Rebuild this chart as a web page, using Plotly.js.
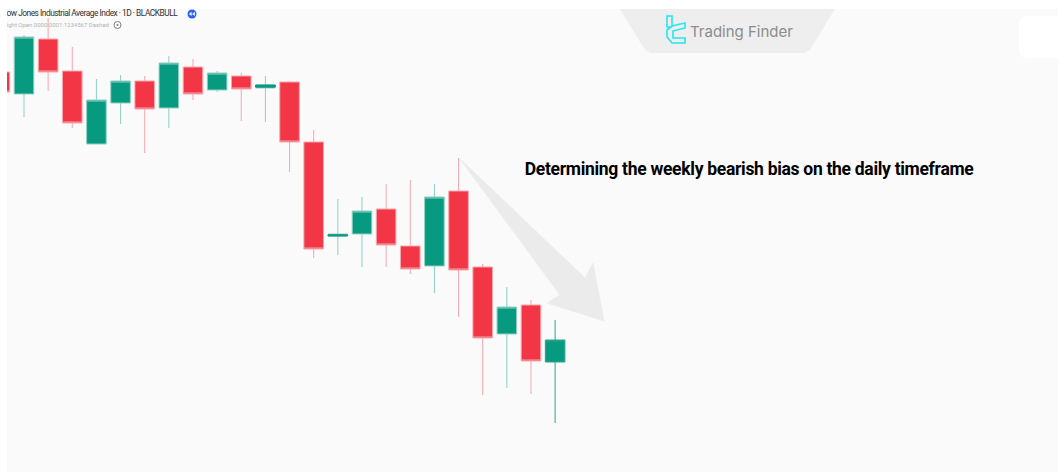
<!DOCTYPE html>
<html><head><meta charset="utf-8">
<script src="https://cdn.plot.ly/plotly-3.0.1.min.js"></script>
<style>html,body{margin:0;padding:0;background:#fff;overflow:hidden}#c{width:1058px;height:472px}</style>
</head><body><div id="c"></div>
<script>
var idx   =[-1,0,1,2,3,4,5,6,7,8,9,10,11,12,13,14,15,16,17,18,19,20,21];
var open_ =[400,378,433,401,328,369,391,364,405,382,396,384,390,330,236,238,263,226,206,281,205,138,167];
var high_ =[407,437,454,425,393,397,396,416,413,401,399,396,391,342,273,275,288,292,288,314,208,185,172];
var low_  =[372,355,381,344,328,348,319,344,372,380,351,350,300,214,217,205,205,198,179,155,77,84,78];
var close_=[380,435,400,349,372,391,363,409,378,399,383,387,330,223,238,261,227,203,275,202,134,165,111];
var lastIdx=[22], lastOpen=[110], lastHigh=[152], lastLow=[49], lastClose=[132];
var thinIdx=[10,13], thinOpen=[385,236], thinClose=[387,237];
var arrowX=[18.03,23.24,23.57,24.03,21.67,22.2,18.03];
var arrowY=[314,194,209,151,169,177,314];
var titleText='Dow Jones Industrial Average Index · 1D · BLACKBULL';
var subText='Night Open 0000:0001:1234567 Dashed';
var noteText='Determining the weekly bearish bias on the daily timeframe';
var brandText='Trading Finder';
var W=1058,H=472,L=7,T=9;
function px(x){return (x-L)/(W-L);} function py(y){return 1-(y-T)/(H-T);}
function pth(pts){return pts.map(function(p,i){return (i?'L':'M')+px(p[0])+','+py(p[1]);}).join(' ')+' Z';}
var x0=-0.704,x1=42.83;
function dx(p){return x0+(p-L)/(W-L)*(x1-x0);}
var G='#089981',R='#f23645';
var traces=[
 {type:'scatter',x:arrowX,y:arrowY,mode:'lines',fill:'toself',fillcolor:'#ebebeb',line:{color:'#eeeeee',width:1},hoverinfo:'skip',showlegend:false},
 {type:'candlestick',x:idx,open:open_,high:high_,low:low_,close:close_,showlegend:false,
  increasing:{line:{color:'#8fd0c3',width:1},fillcolor:G},
  decreasing:{line:{color:'#f7a6ae',width:1},fillcolor:R}},
 {type:'candlestick',x:lastIdx,open:lastOpen,high:lastHigh,low:lastLow,close:lastClose,showlegend:false,
  increasing:{line:{color:'#2aa58f',width:1},fillcolor:G},
  decreasing:{line:{color:'#f7a6ae',width:1},fillcolor:R}},
 {type:'candlestick',x:thinIdx,open:thinOpen,high:thinClose,low:thinOpen,close:thinClose,showlegend:false,
  increasing:{line:{color:G,width:1},fillcolor:G},
  decreasing:{line:{color:R,width:1},fillcolor:R}},
 {type:'scatter',x:[dx(1.5)],y:[458],mode:'text',text:[titleText],textposition:'middle right',cliponaxis:true,
  textfont:{family:'Roboto, sans-serif',size:8.4,color:'#333333'},hoverinfo:'skip',showlegend:false},
 {type:'scatter',x:[dx(2.5)],y:[447],mode:'text',text:[subText],textposition:'middle right',cliponaxis:true,
  textfont:{family:'Roboto, sans-serif',size:6,color:'#b4b4b4'},hoverinfo:'skip',showlegend:false}
];
var layout={
 width:W,height:H,margin:{l:L,r:0,t:T,b:0,pad:0},
 paper_bgcolor:'#ffffff',plot_bgcolor:'#fafafa',showlegend:false,boxgap:0.19,boxgroupgap:0,
 xaxis:{range:[x0,x1],visible:false,rangeslider:{visible:false},fixedrange:true,showgrid:false,zeroline:false},
 yaxis:{range:[0,463],visible:false,fixedrange:true,showgrid:false,zeroline:false},
 shapes:[
  {type:'path',xref:'paper',yref:'paper',layer:'below',path:pth([[620,9],[835,9],[810,50],[804,53],[651,53],[645,50]]),fillcolor:'#eeeeee',line:{width:0}},
  {type:'path',xref:'paper',yref:'paper',layer:'above',
   path:'M'+px(1058)+','+py(16)+' L'+px(1028)+','+py(16)+' Q'+px(1019)+','+py(16)+' '+px(1019)+','+py(25)+' L'+px(1019)+','+py(49)+' Q'+px(1019)+','+py(58)+' '+px(1028)+','+py(58)+' L'+px(1058)+','+py(58)+' Z',
   fillcolor:'#ffffff',line:{width:0}},
  {type:'path',xref:'paper',yref:'paper',path:pth([[667,16],[672,16],[672,26],[685,23],[685,28],[673,31],[673,38],[685,38],[685,43],[672,43],[667,37],[667,30],[671,27],[667,27]]),fillcolor:'rgba(0,0,0,0)',line:{color:'#22e8f0',width:1.6}},
  {type:'circle',xref:'paper',yref:'paper',x0:px(187.5),x1:px(196.5),y0:py(18.5),y1:py(9.5),fillcolor:'#2962ff',line:{width:0}},
  {type:'path',xref:'paper',yref:'paper',path:pth([[191.6,11.8],[191.6,16],[189,14]]),fillcolor:'#ffffff',line:{width:0}},
  {type:'path',xref:'paper',yref:'paper',path:pth([[194.8,11.8],[194.8,16],[192.2,14]]),fillcolor:'#ffffff',line:{width:0}},
  {type:'circle',xref:'paper',yref:'paper',x0:px(114),x1:px(121),y0:py(28.5),y1:py(21.5),fillcolor:'rgba(0,0,0,0)',line:{color:'#808080',width:1}},
  {type:'circle',xref:'paper',yref:'paper',x0:px(116.5),x1:px(118.5),y0:py(26),y1:py(24),fillcolor:'#808080',line:{width:0}}
 ],
 annotations:[
  {xref:'paper',yref:'paper',x:px(749),y:py(169),xanchor:'center',yanchor:'middle',showarrow:false,text:'<b>'+noteText+'</b>',font:{family:'Roboto, sans-serif',size:17.5,color:'#000000'}},
  {xref:'paper',yref:'paper',x:px(742),y:py(32),xanchor:'center',yanchor:'middle',showarrow:false,text:brandText,font:{family:'Inter, sans-serif',size:15,color:'#8c8c8c'}}
 ]
};
Plotly.newPlot('c',traces,layout,{displayModeBar:false,staticPlot:true}).then(function(){
  document.querySelectorAll('#c text').forEach(function(t){
    if(t.textContent===noteText) t.style.letterSpacing='-0.3px';
    if(t.textContent===titleText) t.style.letterSpacing='-0.5px';
  });
});
</script></body></html>
